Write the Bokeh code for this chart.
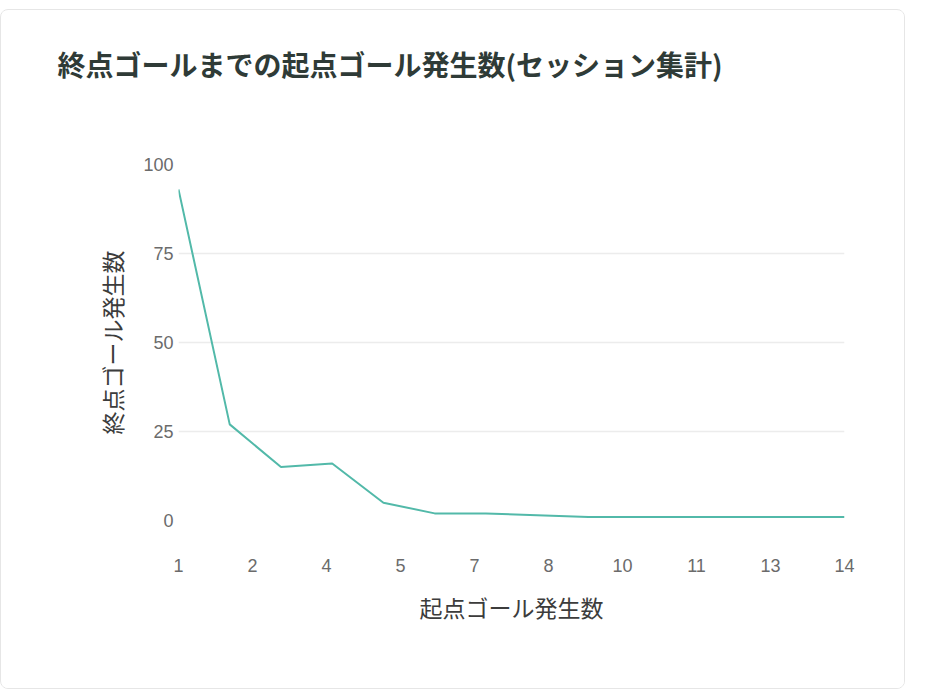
import numpy as np
from bokeh.plotting import figure
from bokeh.models import FixedTicker, Range1d, ColumnDataSource, Title
from bokeh.embed import file_html
from bokeh.resources import INLINE

# ---- data ----
start_goal_counts = [1, 2, 3, 4, 5, 6, 7, 8, 9, 10, 11, 12, 13, 14]
end_goal_counts = [93, 27, 15, 16, 5, 2, 2, 1.5, 1, 1, 1, 1, 1, 1]
x_tick_labels = ["1", "2", "4", "5", "7", "8", "10", "11", "13", "14"]
y_ticks = [0, 25, 50, 75, 100]

title_text = "終点ゴールまでの起点ゴール発生数(セッション集計)"
x_label = "起点ゴール発生数"
y_label = "終点ゴール発生数"

CJK = "Noto Sans CJK JP"
NUM = "Liberation Sans"

src = ColumnDataSource(dict(x=start_goal_counts, y=end_goal_counts))

p = figure(width=905, height=680, output_backend="svg", toolbar_location=None,
           x_range=Range1d(start_goal_counts[0], start_goal_counts[-1]),
           y_range=Range1d(0, 100),
           min_border_left=177, min_border_right=62,
           min_border_top=0, min_border_bottom=170,
           margin=(9, 0, 0, 0),
           styles={"border": "1px solid #e6e6e6", "border-radius": "8px",
                   "overflow": "hidden"})

p.line("x", "y", source=src, line_color="#52b9a9", line_width=2)

# spacer title between frame and main title
p.add_layout(Title(text=" ", text_font_size="27px", standoff=17), "above")

# main title
p.title.text = title_text
p.title.text_font = CJK
p.title.text_font_style = "bold"
p.title.text_font_size = "28px"
p.title.text_color = "#2f3b37"
p.title.align = "left"
p.title.offset = -121
p.title.standoff = 63

p.outline_line_color = None
p.background_fill_color = "white"
p.border_fill_color = "white"

# x axis
n = len(x_tick_labels)
tick_pos = list(np.linspace(start_goal_counts[0], start_goal_counts[-1], n))
p.xaxis.ticker = FixedTicker(ticks=tick_pos)
p.xaxis.major_label_overrides = {t: lab for t, lab in zip(tick_pos, x_tick_labels)}
p.xaxis.axis_line_color = None
p.xaxis.major_tick_line_color = None
p.xaxis.minor_tick_line_color = None
p.xaxis.major_tick_out = 0
p.xaxis.major_tick_in = 0
p.xaxis.major_label_standoff = 38
p.xaxis.major_label_text_font = NUM
p.xaxis.major_label_text_font_size = "18px"
p.xaxis.major_label_text_color = "#6b6b6b"
p.xaxis.axis_label = x_label
p.xaxis.axis_label_text_font = CJK
p.xaxis.axis_label_text_font_style = "normal"
p.xaxis.axis_label_text_font_size = "23px"
p.xaxis.axis_label_text_color = "#3c3c3c"
p.xaxis.axis_label_standoff = 15

# y axis
p.yaxis.ticker = FixedTicker(ticks=y_ticks)
p.yaxis.axis_line_color = None
p.yaxis.major_tick_line_color = None
p.yaxis.minor_tick_line_color = None
p.yaxis.major_tick_out = 0
p.yaxis.major_tick_in = 0
p.yaxis.major_label_standoff = 5
p.yaxis.major_label_text_font = NUM
p.yaxis.major_label_text_font_size = "18px"
p.yaxis.major_label_text_color = "#6b6b6b"
p.yaxis.axis_label = y_label
p.yaxis.axis_label_text_font = CJK
p.yaxis.axis_label_text_font_style = "normal"
p.yaxis.axis_label_text_font_size = "23px"
p.yaxis.axis_label_text_color = "#3c3c3c"
p.yaxis.axis_label_standoff = 11

# grid
p.xgrid.grid_line_color = None
p.ygrid.grid_line_color = "#ececec"
p.ygrid.grid_line_width = 1.5

open("out.html", "w").write(file_html(p, INLINE))
